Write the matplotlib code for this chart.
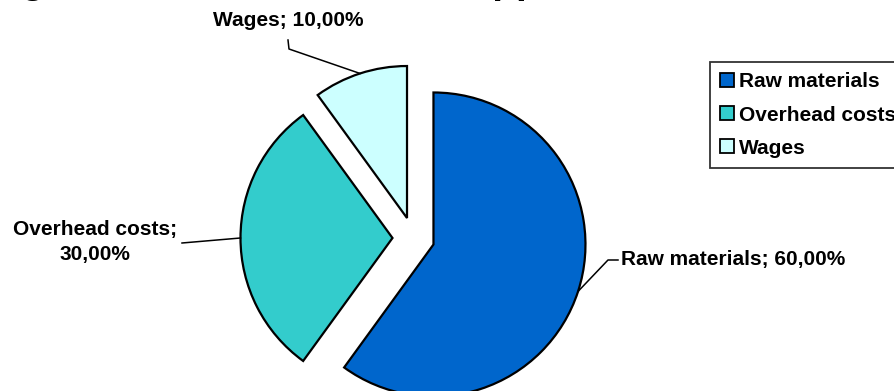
import numpy as np
import matplotlib
matplotlib.use('Agg')
import matplotlib.pyplot as plt

plt.rcParams['font.family'] = ['Liberation Sans', 'DejaVu Sans']
plt.rcParams['font.weight'] = 'bold'

# data
categories = ['Raw materials', 'Overhead costs', 'Wages']
shares = [60.0, 30.0, 10.0]
colors = ['#0066CC', '#33CCCC', '#CCFFFF']
title = 'Percentage of total costs of the supplier'

W, H = 895, 391
fig = plt.figure(figsize=(W / 100, H / 100), dpi=100)
ax = fig.add_axes([0, 0, 1, 1])

# pie in pixel-like data units (y up)
r = 152
cx, cy = 413.5, H - 238
wedges, _ = ax.pie(shares, colors=colors, startangle=90, counterclock=False,
                   radius=r, center=(cx, cy), explode=[21] * len(shares),
                   wedgeprops=dict(edgecolor='black', linewidth=1.6),
                   frame=False)
ax.set_xlim(0, W)
ax.set_ylim(0, H)
ax.set_aspect('equal')
ax.set_axis_off()

def arc_point(w):
    th = np.deg2rad(0.5 * (w.theta1 + w.theta2))
    return w.center[0] + w.r * np.cos(th), w.center[1] + w.r * np.sin(th)

def lbl(v):
    return ('%.2f%%' % v).replace('.', ',')

# label positions (px from top-left), knee points of leader lines
fs = 15
# Raw materials
x0, y0 = arc_point(wedges[0])
ax.plot([x0, 608, 618], [y0, H - 260, H - 260], color='black', lw=1.1)
ax.text(621, H - 260, '%s; %s' % (categories[0], lbl(shares[0])),
        ha='left', va='center', fontsize=fs, fontweight='bold')
# Overhead costs
x1, y1 = arc_point(wedges[1])
ax.plot([x1, 182], [y1, H - 243], color='black', lw=1.1)
ax.text(95, H - 242, '%s;\n%s' % (categories[1], lbl(shares[1])),
        ha='center', va='center', fontsize=fs, fontweight='bold',
        linespacing=1.38)
# Wages
x2, y2 = arc_point(wedges[2])
ax.plot([x2, 289, 288], [y2, H - 49, H - 40], color='black', lw=1.1)
ax.text(288, H - 21, '%s; %s' % (categories[2], lbl(shares[2])),
        ha='center', va='center', fontsize=fs, fontweight='bold')

leg = ax.legend(wedges, categories, loc='upper left',
                bbox_to_anchor=(710 / W, 1 - 62 / H), bbox_transform=fig.transFigure,
                borderaxespad=0, fancybox=False, edgecolor='black',
                handlelength=0.65, handleheight=0.65, handletextpad=0.25,
                labelspacing=0.68, borderpad=0.5,
                prop=dict(weight='bold', size=fs))
leg.get_frame().set_linewidth(1.3)
for h in leg.legend_handles:
    h.set_linewidth(1.3)

# title, mostly outside the top edge (cropped as in the source image)
fig.text(-0.16, 1.018, title, ha='left', va='baseline', fontsize=28,
         fontweight='bold')

fig.savefig('out.png', dpi=100)
